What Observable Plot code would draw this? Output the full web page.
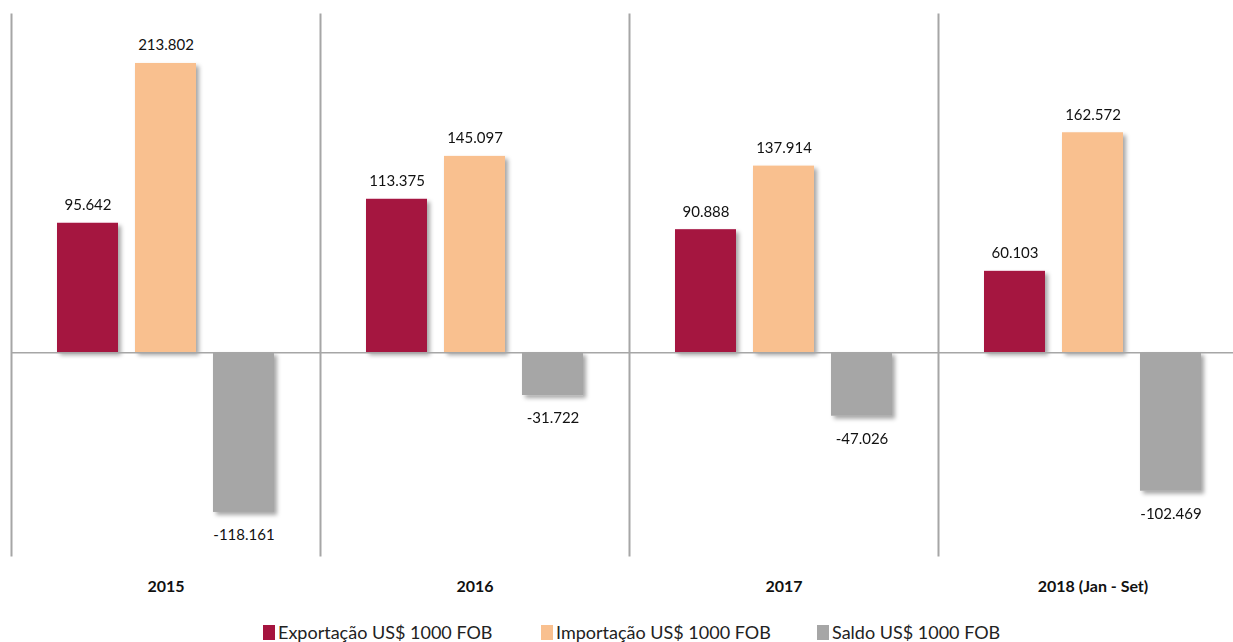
<!DOCTYPE html>
<html>
<head>
<meta charset="utf-8">
<script src="https://cdn.jsdelivr.net/npm/d3@7"></script>
<script src="https://cdn.jsdelivr.net/npm/@observablehq/plot@0.6"></script>
<style>
  html, body { margin: 0; padding: 0; background: #fff; overflow: hidden; }
  #chart { width: 1233px; height: 642px; position: relative; font-family: Lato, "Open Sans", sans-serif; }
  .legend { position: absolute; top: 621px; left: 0; width: 1233px; height: 22px; font-size: 18px; color: #222; }
  .legend .item { position: absolute; top: 0; display: flex; align-items: center; height: 22px; white-space: nowrap; }
  .legend .sw { width: 12px; height: 15px; margin-right: 3px; display: inline-block; }
</style>
</head>
<body>
<div id="chart"></div>
<script>
const years = ["2015", "2016", "2017", "2018 (Jan - Set)"];
const series = ["Exportação US$ 1000 FOB", "Importação US$ 1000 FOB", "Saldo US$ 1000 FOB"];
const exportacao = [95642, 113375, 90888, 60103];
const importacao = [213802, 145097, 137914, 162572];
const saldo = [-118161, -31722, -47026, -102469];
const colors = ["#A5143F", "#F9C08F", "#A6A6A6"];

const values = [exportacao, importacao, saldo];
const data = [];
years.forEach((yr, i) => {
  series.forEach((s, j) => data.push({year: yr, series: s, value: values[j][i]}));
});

const fmt = d3.formatLocale({decimal: ",", thousands: ".", grouping: [3], currency: ["R$", ""], minus: "-"}).format(",d");

const plot = Plot.plot({
  width: 1233,
  height: 600,
  marginTop: 14,
  marginBottom: 45,
  marginLeft: 11,
  marginRight: 0,
  style: {fontFamily: "Lato, 'Open Sans', sans-serif", fontSize: "15px", color: "#111", background: "#fff"},
  fx: {domain: years, range: [11, 1247], paddingInner: 0, paddingOuter: 0, label: null},
  x: {domain: series, paddingInner: 0.22, paddingOuter: 0.59, axis: null},
  y: {domain: [-150000, 250000], axis: null},
  color: {domain: series, range: colors},
  marks: [
    Plot.frame({anchor: "left", stroke: "#A6A6A6", strokeWidth: 2, strokeOpacity: 1}),
    Plot.barY(data, {fx: "year", x: "series", y: "value", fill: "series"}),
    Plot.ruleY([0], {stroke: "#A6A6A6", strokeWidth: 1.5}),
    Plot.text(data.filter(d => d.value >= 0), {fx: "year", x: "series", y: "value", text: d => fmt(d.value), dy: -18, fill: "#111"}),
    Plot.text(data.filter(d => d.value < 0), {fx: "year", x: "series", y: "value", text: d => fmt(d.value), dy: 23, fill: "#111"}),
    Plot.axisFx({anchor: "bottom", tickSize: 0, tickPadding: 25, fontWeight: "bold", fontSize: 16, label: null})
  ]
});

// drop shadow for bars
const svg = d3.select(plot);
const defs = svg.insert("defs", ":first-child");
const f = defs.append("filter").attr("id", "barShadow").attr("x", "-20%").attr("y", "-20%").attr("width", "150%").attr("height", "150%");
f.append("feDropShadow").attr("dx", 3).attr("dy", 3).attr("stdDeviation", 2).attr("flood-color", "#000").attr("flood-opacity", 0.35);
svg.selectAll("g[aria-label='bar']").attr("filter", "url(#barShadow)");

const chart = document.getElementById("chart");
chart.appendChild(plot);

const legend = document.createElement("div");
legend.className = "legend";
const lefts = [263, 541, 817];
series.forEach((s, i) => {
  const it = document.createElement("div");
  it.className = "item";
  it.style.left = lefts[i] + "px";
  const sw = document.createElement("span");
  sw.className = "sw";
  sw.style.background = colors[i];
  const tx = document.createElement("span");
  tx.textContent = s;
  it.appendChild(sw);
  it.appendChild(tx);
  legend.appendChild(it);
});
chart.appendChild(legend);
</script>
</body>
</html>
